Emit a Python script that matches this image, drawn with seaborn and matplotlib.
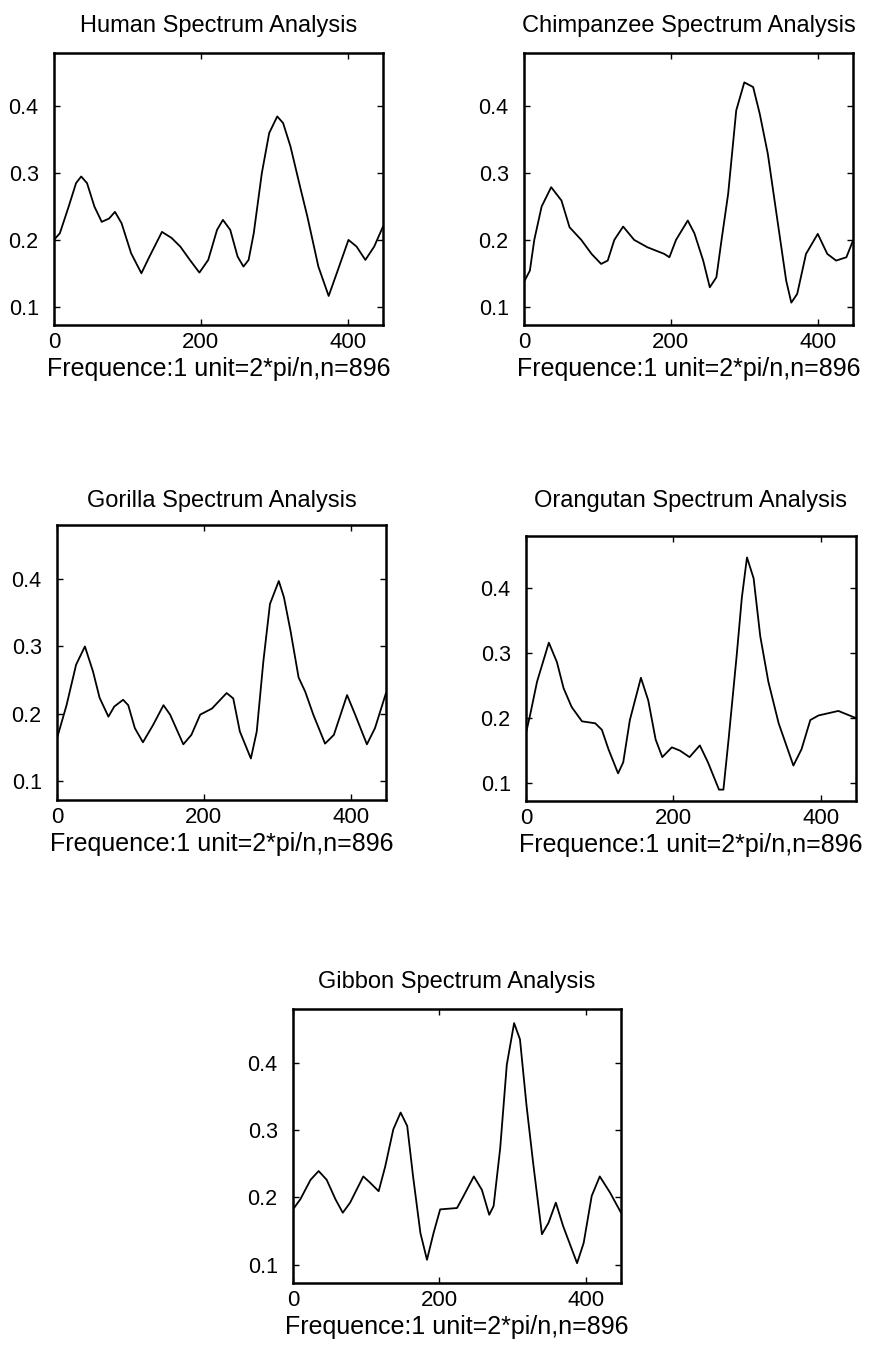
import matplotlib
matplotlib.use("Agg")
import matplotlib.pyplot as plt
import seaborn as sns
import pandas as pd

sns.set_style("white")
plt.rcParams['font.family'] = ['Liberation Sans', 'DejaVu Sans']
plt.rcParams['text.color'] = 'black'
plt.rcParams['axes.labelcolor'] = 'black'

# Frequency positions / spectrum values
human_x = [0, 8, 20, 30, 37, 45, 55, 65, 75, 83, 92, 105, 119, 130, 147, 160, 172, 185, 198, 210, 222, 230, 240, 250, 258, 265, 272, 283, 293, 304, 312, 322, 335, 345, 360, 374, 385, 401, 412, 424, 436, 448]
human_y = [0.200, 0.210, 0.250, 0.285, 0.295, 0.285, 0.250, 0.227, 0.232, 0.242, 0.225, 0.180, 0.150, 0.175, 0.212, 0.203, 0.190, 0.170, 0.151, 0.170, 0.215, 0.230, 0.215, 0.175, 0.160, 0.170, 0.210, 0.300, 0.360, 0.385, 0.375, 0.340, 0.280, 0.235, 0.160, 0.116, 0.150, 0.200, 0.190, 0.170, 0.190, 0.220]

chimp_x = [0, 8, 14, 24, 37, 51, 62, 78, 92, 105, 114, 123, 135, 150, 168, 191, 198, 207, 223, 232, 244, 253, 262, 269, 278, 289, 300, 312, 321, 332, 345, 357, 364, 372, 384, 400, 413, 425, 439, 448]
chimp_y = [0.137, 0.154, 0.200, 0.250, 0.279, 0.259, 0.219, 0.200, 0.179, 0.164, 0.169, 0.200, 0.220, 0.200, 0.189, 0.179, 0.174, 0.200, 0.229, 0.210, 0.169, 0.129, 0.144, 0.200, 0.269, 0.394, 0.436, 0.429, 0.389, 0.329, 0.230, 0.139, 0.106, 0.119, 0.179, 0.209, 0.179, 0.169, 0.174, 0.199]

gorilla_x = [0, 13, 26, 38, 49, 58, 70, 78, 90, 97, 106, 117, 131, 145, 154, 172, 183, 195, 211, 231, 240, 249, 264, 272, 281, 290, 302, 309, 318, 329, 338, 349, 365, 377, 395, 406, 422, 433, 448]
gorilla_y = [0.164, 0.213, 0.273, 0.300, 0.263, 0.224, 0.196, 0.211, 0.221, 0.213, 0.179, 0.158, 0.184, 0.213, 0.199, 0.155, 0.169, 0.199, 0.208, 0.231, 0.223, 0.174, 0.134, 0.174, 0.278, 0.363, 0.397, 0.373, 0.323, 0.254, 0.233, 0.199, 0.156, 0.169, 0.228, 0.199, 0.155, 0.179, 0.231]

orang_x = [0, 6, 15, 31, 42, 51, 62, 76, 94, 103, 112, 125, 132, 141, 156, 166, 176, 185, 198, 209, 222, 236, 247, 262, 268, 275, 286, 293, 300, 309, 318, 329, 343, 363, 374, 386, 397, 424, 448]
orang_y = [0.177, 0.207, 0.256, 0.316, 0.286, 0.246, 0.217, 0.195, 0.192, 0.182, 0.152, 0.115, 0.132, 0.197, 0.262, 0.227, 0.167, 0.140, 0.155, 0.150, 0.140, 0.158, 0.132, 0.090, 0.090, 0.167, 0.296, 0.385, 0.447, 0.415, 0.326, 0.256, 0.192, 0.127, 0.152, 0.197, 0.204, 0.211, 0.200]

gibbon_x = [0, 10, 24, 35, 46, 58, 68, 78, 96, 105, 117, 126, 137, 147, 156, 164, 174, 183, 192, 201, 224, 233, 247, 258, 268, 274, 283, 292, 302, 310, 319, 328, 340, 349, 359, 369, 388, 397, 408, 419, 433, 448]
gibbon_y = [0.182, 0.197, 0.226, 0.239, 0.226, 0.197, 0.177, 0.192, 0.231, 0.222, 0.209, 0.246, 0.301, 0.326, 0.306, 0.231, 0.147, 0.107, 0.147, 0.182, 0.184, 0.202, 0.231, 0.211, 0.174, 0.187, 0.273, 0.397, 0.459, 0.435, 0.336, 0.251, 0.145, 0.162, 0.192, 0.157, 0.102, 0.132, 0.202, 0.231, 0.207, 0.177]

titles = ["Human Spectrum Analysis", "Chimpanzee Spectrum Analysis",
          "Gorilla Spectrum Analysis", "Orangutan Spectrum Analysis",
          "Gibbon Spectrum Analysis"]
xlabel = "Frequence:1 unit=2*pi/n,n=896"
xticks = [0, 200, 400]
yticks = [0.1, 0.2, 0.3, 0.4]
ytick_labels = ["0.1", "0.2", "0.3", "0.4"]

series = [(human_x, human_y), (chimp_x, chimp_y), (gorilla_x, gorilla_y),
          (orang_x, orang_y), (gibbon_x, gibbon_y)]

W, H = 870, 1347
fig = plt.figure(figsize=(W / 100, H / 100), dpi=100)

# pixel boxes: left, top, right, bottom
boxes = [(54, 53, 383, 325), (524, 53, 853, 325),
         (57, 525, 386, 800), (526, 536, 856, 801),
         (293, 1009, 621, 1283)]
title_pads = [15, 15, 13, 21, 15]

for (l, t, r, b), title, (xs, ys), tp in zip(boxes, titles, series, title_pads):
    ax = fig.add_axes([l / W, 1 - b / H, (r - l) / W, (b - t) / H])
    df = pd.DataFrame({"f": xs, "p": ys})
    sns.lineplot(data=df, x="f", y="p", ax=ax, color="black", linewidth=1.3)
    ax.set_xlim(0, 448)
    ax.set_ylim(0.0725, 0.48)
    ax.set_xticks(xticks)
    ax.set_xticklabels([str(v) for v in xticks])
    ax.set_yticks(yticks)
    ax.set_yticklabels(ytick_labels)
    ax.tick_params(direction="in", length=4, width=1, top=True, right=True,
                   bottom=True, left=True, colors="black")
    ax.tick_params(axis="x", labelsize=16, pad=5)
    ax.tick_params(axis="y", labelsize=15.5, pad=11)
    for s in ax.spines.values():
        s.set_visible(True)
        s.set_linewidth(1.8)
        s.set_color("black")
    ax.set_title(title, fontsize=17, pad=tp, color="black")
    ax.set_xlabel(xlabel, fontsize=18, labelpad=3, color="black")
    ax.set_ylabel("")

fig.savefig("out.png", dpi=100, facecolor="white")
